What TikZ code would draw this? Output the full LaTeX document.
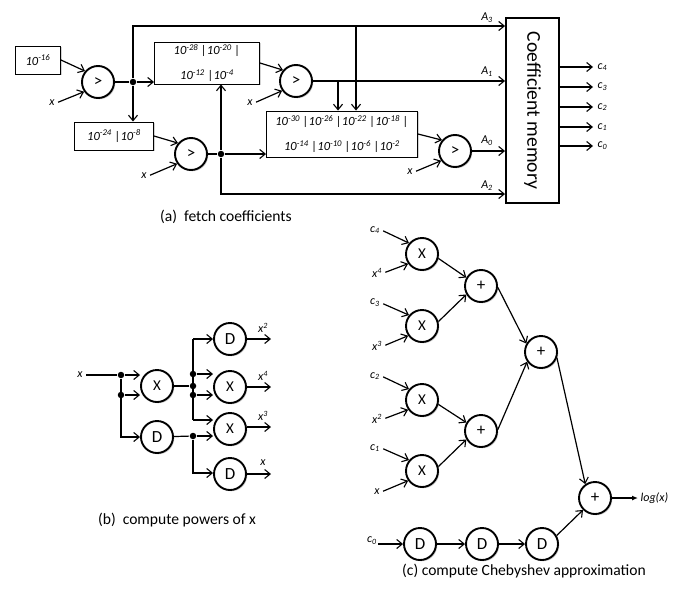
\documentclass[tikz,border=0pt]{standalone}
\usepackage{fontspec}
\setmainfont{Carlito}
\usetikzlibrary{arrows.meta,shadows,calc}
\begin{document}
\begin{tikzpicture}[x=1pt,y=-1pt,
  line width=1.2pt,
  arr/.style={-{Straight Barb[length=5.5pt,width=9pt,line width=1.1pt]}},
  farr/.style={-{Latex[length=6pt,width=5pt]}},
  shd/.style={drop shadow={shadow xshift=1.3pt,shadow yshift=-1.3pt,opacity=0.35}},
  cmp/.style={circle,draw,line width=1.9pt,minimum size=32pt,inner sep=0pt,fill=white,shd,font=\fontsize{17}{17}\selectfont},
  mul/.style={cmp,font=\fontsize{15}{15}\selectfont},
  vbox/.style={draw,line width=0.9pt,fill=white,inner sep=0pt,align=center,shd,font=\itshape\fontsize{12.5}{14}\selectfont},
  lab/.style={font=\itshape\fontsize{12}{12}\selectfont,inner sep=1pt},
  dot/.style={circle,fill,inner sep=0pt,minimum size=6.5pt},
  captxt/.style={font=\fontsize{15.6}{15.6}\selectfont}
]
\useasboundingbox (0,0) rectangle (685,597);

% ---------------- (a) fetch coefficients ----------------
\node[vbox,minimum width=45pt,minimum height=28pt] (b16) at (38,60) {10\textsuperscript{-16}};
\node[cmp] (g1) at (98,82) {>};
\node[dot] (j1) at (133,82) {};
\node[vbox,minimum width=105pt,minimum height=42pt] (b2) at (207,63)
  {10\textsuperscript{-28} |10\textsuperscript{-20} |\\[11pt]10\textsuperscript{-12} |10\textsuperscript{-4}};
\node[cmp] (g2) at (296,81) {>};
\node[vbox,minimum width=79pt,minimum height=28pt] (b3) at (114,136) {10\textsuperscript{-24} |10\textsuperscript{-8}};
\node[cmp] (g3) at (191,154) {>};
\node[dot] (j2) at (221,154) {};
\node[vbox,minimum width=151pt,minimum height=46pt] (b4) at (342,134)
  {10\textsuperscript{-30} |10\textsuperscript{-26} |10\textsuperscript{-22} |10\textsuperscript{-18} |\\[11pt]10\textsuperscript{-14} |10\textsuperscript{-10} |10\textsuperscript{-6} |10\textsuperscript{-2}};
\node[cmp] (g4) at (455,151) {>};
\node[draw,line width=1.9pt,minimum width=53pt,minimum height=185pt,fill=white,shd] (mem) at (532.5,110.5) {};
\node[rotate=-90,font=\fontsize{19.6}{19.6}\selectfont] (memt) at (mem) {Coefficient memory};

\node[lab] (x1) at (52,103) {x};
\node[lab] (x2) at (250,103) {x};
\node[lab] (x3) at (144,176) {x};
\node[lab] (x4) at (410,172) {x};

\draw[arr] (b16.east) -- (g1.140);
\draw[arr,shorten <=2pt] (x1.east) -- (g1.215);
\draw (g1) -- (j1);
\draw[arr] (j1) -- (j1 -| b2.west);
\draw[arr] (j1) -- (j1 |- b3.north);
\coordinate (t1) at (133,26);
\draw[arr] (j1) -- (t1) -- (t1 -| mem.west);
\coordinate (br3) at (356,26);
\draw[arr] (br3) -- (br3 |- b4.north);

\draw[arr] (b2.east) -- (g2.140);
\draw[arr,shorten <=2pt] (x2.east) -- (g2.215);
\draw[arr] (g2) -- (g2 -| mem.west);
\coordinate (br1) at (338,81);
\draw[arr] (br1) -- (br1 |- b4.north);

\draw[arr] (b3.east) -- (g3.140);
\draw[arr,shorten <=2pt] (x3.east) -- (g3.215);
\draw (g3) -- (j2);
\draw[arr] (j2) -- (j2 -| b4.west);
\draw[arr] (j2) -- (j2 |- b2.south);
\coordinate (t2) at (221,194);
\draw[arr] (j2) -- (t2) -- (t2 -| mem.west);

\draw[arr] (b4.east) -- (g4.140);
\draw[arr,shorten <=2pt] (x4.east) -- (g4.215);
\draw[arr] (g4) -- (g4 -| mem.west);

\node[lab] (a3) at (487,18) {A\textsubscript{3}};
\node[lab] (a1) at (487,72) {A\textsubscript{1}};
\node[lab] (a0) at (487,141) {A\textsubscript{0}};
\node[lab] (a2) at (487,186) {A\textsubscript{2}};

\foreach \yy/\i in {67/4,87/3,107/2,127/1,146/0}{
  \coordinate (o\i) at (593,\yy);
  \draw[arr] (o\i -| mem.east) -- (o\i);
  \node[lab,anchor=west] (cl\i) at (596,\yy) {c\textsubscript{\i}};
}
\node[captxt] (capa) at (226,217) {(a)\ \ fetch coefficients};

% ---------------- (b) compute powers of x ----------------
\node[lab] (xb) at (80,375) {x};
\node[dot] (j3) at (121,375) {};
\node[dot] (j4) at (121,395) {};
\node[mul] (M1) at (157,386) {X};
\node[cmp] (D1) at (157,437) {D};
\node[dot] (j5) at (193,374) {};
\node[dot] (j6) at (193,386) {};
\node[dot] (j7) at (193,395) {};
\node[dot] (j8) at (193,436) {};
\node[cmp] (D2) at (230,339) {D};
\node[mul] (M2) at (230,387) {X};
\node[mul] (M3) at (230,429) {X};
\node[cmp] (D3) at (230,474) {D};
\coordinate (v1) at (193,339);
\coordinate (v2) at (193,420);
\coordinate (v3) at (193,473);
\coordinate (v4) at (121,437);

\draw[shorten <=2pt] (xb.east) -- (j3);
\draw[arr] (j3) -- (j3 -| M1.west);
\draw[arr] (j4) -- (j4 -| M1.west);
\draw[arr] (j3) -- (v4) -- (D1.west);
\draw (M1) -- (j6);
\draw (v1) -- (v2);
\draw[arr] (v1) -- (D2.west);
\draw[arr] (j5) -- (j5 -| M2.west);
\draw[arr] (j7) -- (j7 -| M2.west);
\draw[arr] (v2) -- (v2 -| M3.west);
\draw (D1) -- (j8);
\draw[arr] (j8) -- (j8 -| M3.west);
\draw[arr] (j8) -- (v3) -- (v3 -| D3.west);

\foreach \n/\yy in {D2/339,M2/387,M3/427,D3/474}{
  \coordinate (e\n) at (271,\yy);
  \draw[arr] (\n.east |- e\n) -- (e\n);
}
\node[lab] (lx2) at (263,328) {x\textsuperscript{2}};
\node[lab] (lx4) at (263,376) {x\textsuperscript{4}};
\node[lab] (lx3) at (263,416) {x\textsuperscript{3}};
\node[lab] (lx1) at (263,463) {x};
\node[captxt] (capb) at (177,520) {(b)\ \ compute powers of x};

% ---------------- (c) compute Chebyshev approximation ----------------
\node[mul] (X1) at (422,254) {X};
\node[mul] (X2) at (422,326) {X};
\node[mul] (X3) at (422,400) {X};
\node[mul] (X4) at (422,471) {X};
\node[cmp] (P1) at (481,286) {+};
\node[cmp] (P2) at (481,431) {+};
\node[cmp] (P3) at (541,352) {+};
\node[cmp] (P4) at (595,498) {+};
\node[cmp] (E1) at (420,544) {D};
\node[cmp] (E2) at (482,544) {D};
\node[cmp] (E3) at (542,544) {D};

\node[lab] (ic4) at (375,230) {c\textsubscript{4}};
\node[lab] (ix4) at (377,273) {x\textsuperscript{4}};
\node[lab] (ic3) at (375,303) {c\textsubscript{3}};
\node[lab] (ix3) at (377,346) {x\textsuperscript{3}};
\node[lab] (ic2) at (375,376) {c\textsubscript{2}};
\node[lab] (ix2) at (377,419) {x\textsuperscript{2}};
\node[lab] (ic1) at (375,448) {c\textsubscript{1}};
\node[lab] (ix1) at (377,492) {x};
\node[lab] (ic0) at (372,541) {c\textsubscript{0}};

\draw[arr,shorten <=2pt] (ic4.east) -- (X1.140);
\draw[arr,shorten <=2pt] (ix4.east) -- (X1.215);
\draw[arr,shorten <=2pt] (ic3.east) -- (X2.140);
\draw[arr,shorten <=2pt] (ix3.east) -- (X2.215);
\draw[arr,shorten <=2pt] (ic2.east) -- (X3.140);
\draw[arr,shorten <=2pt] (ix2.east) -- (X3.215);
\draw[arr,shorten <=2pt] (ic1.east) -- (X4.140);
\draw[arr,shorten <=2pt] (ix1.east) -- (X4.215);
\draw[arr] (ic0.east |- E1) -- (E1.west);

\draw[arr] (X1.-15) -- (P1.150);
\draw[arr] (X2.15) -- (P1.210);
\draw[arr] (X3.-15) -- (P2.150);
\draw[arr] (X4.15) -- (P2.210);
\draw[arr] (P1.-5) -- (P3.150);
\draw[arr] (P2.5) -- (P3.215);
\draw[arr] (P3.-20) -- (P4.125);
\draw[arr] (E1) -- (E2);
\draw[arr] (E2) -- (E3);
\draw[arr] (E3.30) -- (P4.225);
\coordinate (lg) at (638,498);
\draw[farr] (P4.east) -- (lg);
\node[lab,anchor=west] (logx) at (639,498) {log(x)};
\node[captxt] (capc) at (524,571) {(c) compute Chebyshev approximation};
\end{tikzpicture}
\end{document}
